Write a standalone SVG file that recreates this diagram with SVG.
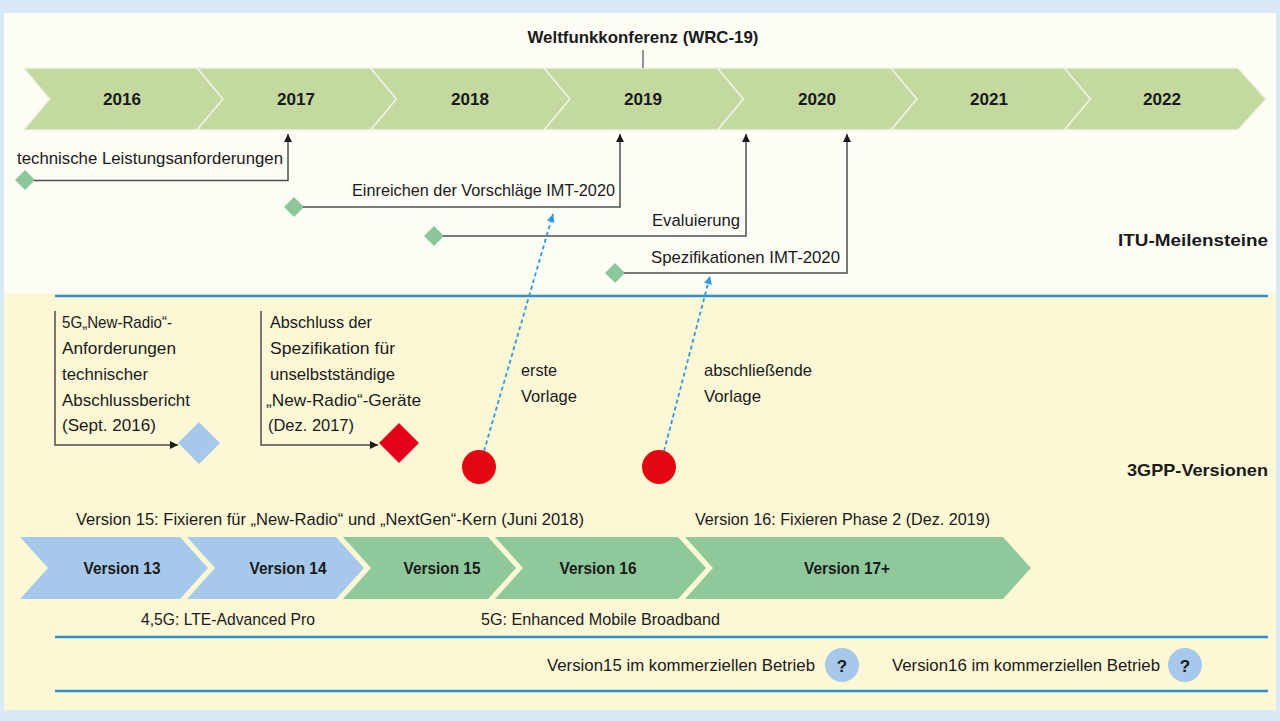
<svg xmlns="http://www.w3.org/2000/svg" width="1280" height="721" viewBox="0 0 1280 721">
<style>
.t{font-family:"Liberation Sans",Arial,sans-serif;font-size:17px;fill:#1a1a1a}
.b{font-weight:bold}
.m{text-anchor:middle}
.yr{fill:#c4d99f;stroke:#eef4e2;stroke-width:1.5}
.vb{fill:#a6c8ea}
.vg{fill:#8fc99b}
.gd{fill:#8cc79a}
.ln{fill:none;stroke:#4d4d4d;stroke-width:1.5}
.bl{fill:none;stroke:#2f8fd3;stroke-width:2.5}
.da{fill:none;stroke:#2b9ae0;stroke-width:1.8;stroke-dasharray:4 3}
</style>
<defs>
<marker id="ah" viewBox="0 0 10 10" refX="10" refY="5" markerWidth="9" markerHeight="8" markerUnits="userSpaceOnUse" orient="auto"><path d="M0,0 L10,5 L0,10 z" fill="#1a1a1a"/></marker>
<marker id="bh" viewBox="0 0 10 10" refX="10" refY="5" markerWidth="9" markerHeight="8" markerUnits="userSpaceOnUse" orient="auto"><path d="M0,0 L10,5 L0,10 z" fill="#2b9ae0"/></marker>
</defs>
<g id="background">
<rect x="0" y="0" width="1280" height="721" fill="#d8eaf5"/>
<rect x="4" y="13" width="1272" height="280" fill="#fdfdf6"/>
<rect x="4" y="293" width="1272" height="417" fill="#fcf7d5"/>
</g>
<g id="wrc">
<text class="t b m" x="643" y="43" textLength="231" lengthAdjust="spacingAndGlyphs">Weltfunkkonferenz (WRC-19)</text>
</g>
<g id="years">
<g id="y2016"><polygon class="yr" points="23.5,68 197,68 223,99 197,130 23.5,130 49.5,99"/><text class="t b m" x="122" y="105" textLength="38" lengthAdjust="spacingAndGlyphs">2016</text></g>
<g id="y2017"><polygon class="yr" points="197,68 370.5,68 396.5,99 370.5,130 197,130 223,99"/><text class="t b m" x="296" y="105" textLength="38" lengthAdjust="spacingAndGlyphs">2017</text></g>
<g id="y2018"><polygon class="yr" points="370.5,68 544,68 570,99 544,130 370.5,130 396.5,99"/><text class="t b m" x="470" y="105" textLength="38" lengthAdjust="spacingAndGlyphs">2018</text></g>
<g id="y2019"><polygon class="yr" points="544,68 717.5,68 743.5,99 717.5,130 544,130 570,99"/><text class="t b m" x="643" y="105" textLength="38" lengthAdjust="spacingAndGlyphs">2019</text></g>
<g id="y2020"><polygon class="yr" points="717.5,68 891,68 917,99 891,130 717.5,130 743.5,99"/><text class="t b m" x="817" y="105" textLength="38" lengthAdjust="spacingAndGlyphs">2020</text></g>
<g id="y2021"><polygon class="yr" points="891,68 1064.5,68 1090.5,99 1064.5,130 891,130 917,99"/><text class="t b m" x="989" y="105" textLength="38" lengthAdjust="spacingAndGlyphs">2021</text></g>
<g id="y2022"><polygon class="yr" points="1064.5,68 1238,68 1266,99 1238,130 1064.5,130 1090.5,99"/><text class="t b m" x="1162" y="105" textLength="38" lengthAdjust="spacingAndGlyphs">2022</text></g>
</g>
<g id="itu-milestones">
<g id="ms1"><polygon class="gd" points="25,170 35,180 25,190 15,180"/><text class="t" x="17" y="164" textLength="266" lengthAdjust="spacingAndGlyphs">technische Leistungsanforderungen</text></g>
<g id="ms2"><polygon class="gd" points="294,197 304,207 294,217 284,207"/><text class="t" x="352" y="196" textLength="263" lengthAdjust="spacingAndGlyphs">Einreichen der Vorschläge IMT-2020</text></g>
<g id="ms3"><polygon class="gd" points="434,226 444,236 434,246 424,236"/><text class="t" x="652" y="226" textLength="88" lengthAdjust="spacingAndGlyphs">Evaluierung</text></g>
<g id="ms4"><polygon class="gd" points="615,263 625,273 615,283 605,273"/><text class="t" x="651" y="263" textLength="189" lengthAdjust="spacingAndGlyphs">Spezifikationen IMT-2020</text></g>
<g id="itu-label"><text class="t b" x="1118" y="246" textLength="150" lengthAdjust="spacingAndGlyphs">ITU-Meilensteine</text></g>
</g>
<g id="separators">
<line class="bl" x1="55" y1="296" x2="1268" y2="296"/>
<line class="bl" x1="55" y1="637" x2="1268" y2="637"/>
<line class="bl" x1="55" y1="691" x2="1268" y2="691"/>
</g>
<g id="gpp-notes">
<g id="note1">
<text class="t" x="62" y="328" textLength="110" lengthAdjust="spacingAndGlyphs">5G„New-Radio“-</text>
<text class="t" x="62" y="354" textLength="114" lengthAdjust="spacingAndGlyphs">Anforderungen</text>
<text class="t" x="62" y="380" textLength="86" lengthAdjust="spacingAndGlyphs">technischer</text>
<text class="t" x="62" y="406" textLength="128" lengthAdjust="spacingAndGlyphs">Abschlussbericht</text>
<text class="t" x="62" y="431" textLength="94" lengthAdjust="spacingAndGlyphs">(Sept. 2016)</text>
<polygon fill="#a6c8ea" points="199,422 220,443 199,464 178,443"/>
</g>
<g id="note2">
<text class="t" x="270" y="328" textLength="102" lengthAdjust="spacingAndGlyphs">Abschluss der</text>
<text class="t" x="270" y="354" textLength="125" lengthAdjust="spacingAndGlyphs">Spezifikation für</text>
<text class="t" x="270" y="380" textLength="125" lengthAdjust="spacingAndGlyphs">unselbstständige</text>
<text class="t" x="266" y="406" textLength="155" lengthAdjust="spacingAndGlyphs">„New-Radio“-Geräte</text>
<text class="t" x="268" y="431" textLength="86" lengthAdjust="spacingAndGlyphs">(Dez. 2017)</text>
<polygon fill="#e2001a" points="399,423 419,443 399,463 379,443"/>
</g>
<g id="draft1"><circle cx="479" cy="467" r="17" fill="#e30613"/><text class="t" x="521" y="376" textLength="36" lengthAdjust="spacingAndGlyphs">erste</text><text class="t" x="521" y="402" textLength="56" lengthAdjust="spacingAndGlyphs">Vorlage</text></g>
<g id="draft2"><circle cx="659" cy="467" r="17" fill="#e30613"/><text class="t" x="704" y="376" textLength="108" lengthAdjust="spacingAndGlyphs">abschließende</text><text class="t" x="704" y="402" textLength="57" lengthAdjust="spacingAndGlyphs">Vorlage</text></g>
<g id="gpp-label"><text class="t b" x="1127" y="476" textLength="141" lengthAdjust="spacingAndGlyphs">3GPP-Versionen</text></g>
</g>
<g id="versions">
<text class="t" x="76" y="525" textLength="508" lengthAdjust="spacingAndGlyphs">Version 15: Fixieren für „New-Radio“ und „NextGen“-Kern (Juni 2018)</text>
<text class="t" x="695" y="525" textLength="295" lengthAdjust="spacingAndGlyphs">Version 16: Fixieren Phase 2 (Dez. 2019)</text>
<g id="v13"><polygon class="vb" points="20,537 180,537 208,568 180,599 20,599 48,568"/><text class="t b m" x="122" y="574" textLength="77" lengthAdjust="spacingAndGlyphs">Version 13</text></g>
<g id="v14"><polygon class="vb" points="187,537 336,537 364,568 336,599 187,599 215,568"/><text class="t b m" x="288" y="574" textLength="77" lengthAdjust="spacingAndGlyphs">Version 14</text></g>
<g id="v15"><polygon class="vg" points="343,537 488,537 516,568 488,599 343,599 371,568"/><text class="t b m" x="442" y="574" textLength="77" lengthAdjust="spacingAndGlyphs">Version 15</text></g>
<g id="v16"><polygon class="vg" points="495,537 678,537 706,568 678,599 495,599 523,568"/><text class="t b m" x="598" y="574" textLength="77" lengthAdjust="spacingAndGlyphs">Version 16</text></g>
<g id="v17"><polygon class="vg" points="685,537 1003,537 1031,568 1003,599 685,599 713,568"/><text class="t b m" x="847" y="574" textLength="86" lengthAdjust="spacingAndGlyphs">Version 17+</text></g>
<text class="t" x="141" y="625" textLength="174" lengthAdjust="spacingAndGlyphs">4,5G: LTE-Advanced Pro</text>
<text class="t" x="481" y="625" textLength="239" lengthAdjust="spacingAndGlyphs">5G: Enhanced Mobile Broadband</text>
</g>
<g id="commercial">
<g id="c15"><text class="t" x="547" y="671" textLength="268" lengthAdjust="spacingAndGlyphs">Version15 im kommerziellen Betrieb</text><circle cx="842" cy="665" r="17" fill="#a6c8ea"/><text class="t b m" x="842" y="672" font-size="19">?</text></g>
<g id="c16"><text class="t" x="892" y="671" textLength="268" lengthAdjust="spacingAndGlyphs">Version16 im kommerziellen Betrieb</text><circle cx="1185" cy="665" r="17" fill="#a6c8ea"/><text class="t b m" x="1185" y="672" font-size="19">?</text></g>
</g>
<g id="connectors">
<line x1="643" y1="50" x2="643" y2="68" stroke="#4d4d4d" stroke-width="1.2"/>
<path class="ln" d="M34,180.5 H288 V134" marker-end="url(#ah)"/>
<path class="ln" d="M303,207 H620 V134" marker-end="url(#ah)"/>
<path class="ln" d="M443,236 H746 V134" marker-end="url(#ah)"/>
<path class="ln" d="M624,273 H847 V134" marker-end="url(#ah)"/>
<path class="ln" d="M55,311 V445 H178" marker-end="url(#ah)"/>
<path class="ln" d="M261,311 V445 H378" marker-end="url(#ah)"/>
<path class="da" d="M484,451 L553,214" marker-end="url(#bh)"/>
<path class="da" d="M664,451 L710,276" marker-end="url(#bh)"/>
</g>
</svg>
